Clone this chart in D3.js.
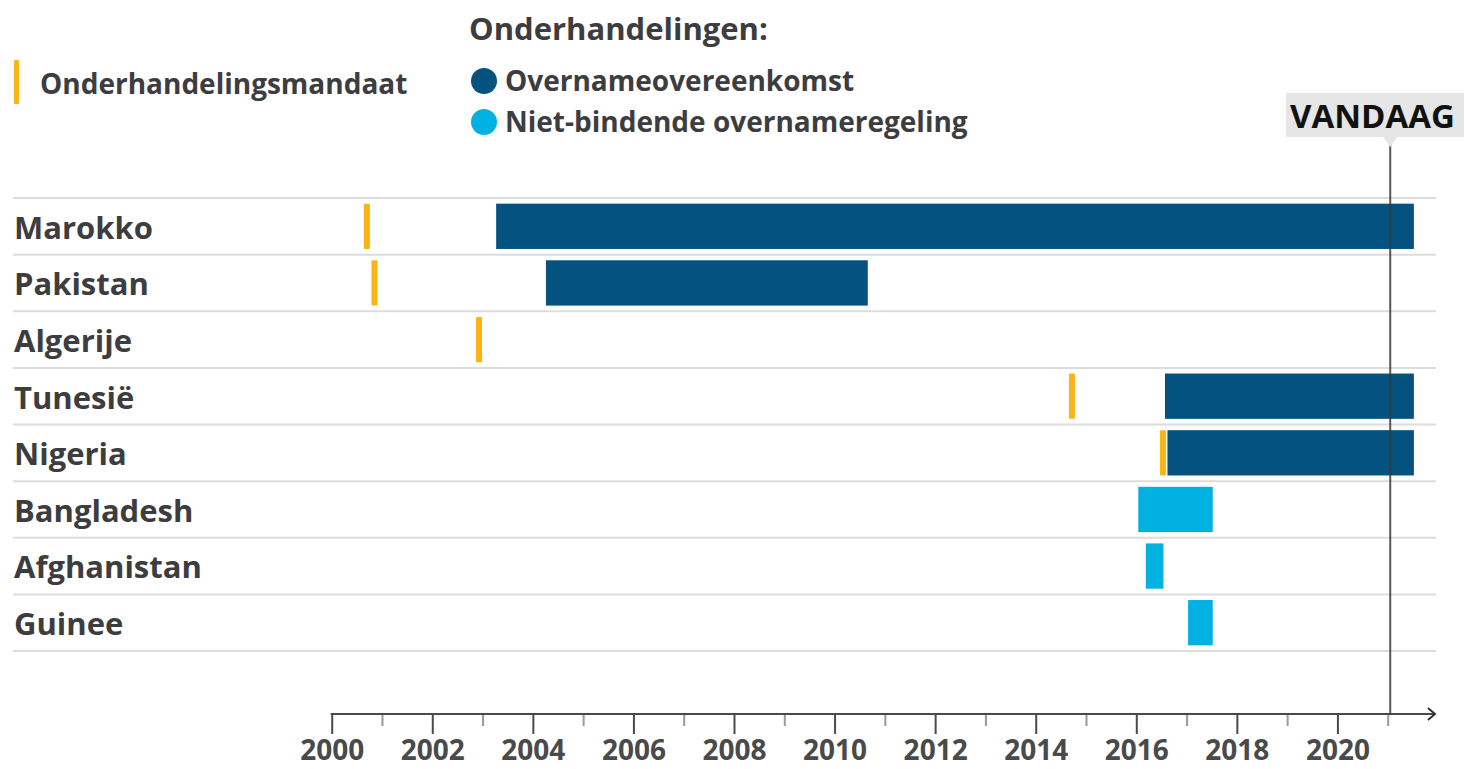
<!DOCTYPE html>
<html>
<head>
<meta charset="utf-8">
<script src="https://cdn.jsdelivr.net/npm/d3@7"></script>
<style>
  body { margin: 0; background: #fff; }
  svg { display: block; font-family: "Open Sans", "Noto Sans", sans-serif; font-weight: 700; }
</style>
</head>
<body>
<svg id="chart" width="1464" height="769"></svg>
<script>
// data
const countries = ['Marokko', 'Pakistan', 'Algerije', 'Tunesië', 'Nigeria', 'Bangladesh', 'Afghanistan', 'Guinee'];
const mandateYear = [2000.70, 2000.85, 2002.93, 2014.72, 2016.53, null, null, null];
const dealStart = [2003.27, 2004.26, null, 2016.57, 2016.62, 2016.04, 2016.19, 2017.03];
const dealEnd = [2021.52, 2010.66, null, 2021.52, 2021.52, 2017.52, 2016.54, 2017.52];
const dealType = ['bindend', 'bindend', null, 'bindend', 'bindend', 'niet', 'niet', 'niet'];
const majorTicks = [2000, 2002, 2004, 2006, 2008, 2010, 2012, 2014, 2016, 2018, 2020];
const minorTicks = [2001, 2003, 2005, 2007, 2009, 2011, 2013, 2015, 2017, 2019, 2021];
const today = 2021.05;

const legendTypes = ['bindend', 'niet'];
const legendLabels = ['Overnameovereenkomst', 'Niet-bindende overnameregeling'];

const colors = { bindend: '#03527f', niet: '#00b1e1', mandate: '#fbb316' };
const textColor = '#3d3d3f';

const svg = d3.select('#chart');

const x = d3.scaleLinear()
  .domain([2000, 2022])
  .range([331.7, 1438]);

const y = d3.scaleBand()
  .domain(countries)
  .range([198, 651])
  .paddingInner(0.2)
  .paddingOuter(0.1);

const step = y.step();

// row separators
svg.append('g')
  .selectAll('line')
  .data(d3.range(countries.length + 1))
  .join('line')
    .attr('x1', 13)
    .attr('x2', 1436)
    .attr('y1', i => 198 + i * step)
    .attr('y2', i => 198 + i * step)
    .attr('stroke', '#dcdcdc')
    .attr('stroke-width', 2);

// country labels
svg.append('g')
  .selectAll('text')
  .data(countries)
  .join('text')
    .attr('x', 14)
    .attr('y', d => y(d) + y.bandwidth() / 2)
    .attr('dy', '0.4em')
    .attr('fill', textColor)
    .style('font-size', '31px')
    .text(d => d);

// agreement bars
const deals = countries.map((c, i) => ({ c, s: dealStart[i], e: dealEnd[i], t: dealType[i] }))
  .filter(d => d.s !== null);

svg.append('g')
  .selectAll('rect')
  .data(deals)
  .join('rect')
    .attr('x', d => x(d.s))
    .attr('y', d => y(d.c))
    .attr('width', d => x(d.e) - x(d.s))
    .attr('height', y.bandwidth())
    .attr('fill', d => colors[d.t]);

// mandate markers
const mandates = countries.map((c, i) => ({ c, v: mandateYear[i] })).filter(d => d.v !== null);

svg.append('g')
  .selectAll('rect')
  .data(mandates)
  .join('rect')
    .attr('x', d => x(d.v) - 3)
    .attr('y', d => y(d.c))
    .attr('width', 6)
    .attr('height', y.bandwidth())
    .attr('rx', 1)
    .attr('fill', colors.mandate);

// axis
const axisY = 714;
const axisG = svg.append('g')
  .attr('transform', `translate(0,${axisY})`);

axisG.append('g')
  .call(d3.axisBottom(x).tickValues(minorTicks).tickSize(12).tickFormat(''))
  .call(g => g.select('.domain').remove())
  .call(g => g.selectAll('line').attr('stroke', '#9a9a9a').attr('stroke-width', 2));

axisG.append('g')
  .call(d3.axisBottom(x).tickValues(majorTicks).tickSize(20).tickPadding(8).tickFormat(d3.format('d')))
  .call(g => g.select('.domain').remove())
  .call(g => g.selectAll('line').attr('stroke', '#4a4a4a').attr('stroke-width', 2))
  .call(g => g.selectAll('text')
    .attr('dy', '0.66em')
    .attr('fill', '#4a4a4a')
    .style('font-family', '"Open Sans", sans-serif')
    .style('font-weight', 700)
    .style('font-size', '28px'));

axisG.append('line')
  .attr('x1', x(2000) - 1)
  .attr('x2', 1434)
  .attr('stroke', '#4a4a4a')
  .attr('stroke-width', 2);

axisG.append('path')
  .attr('d', 'M1428,-6 L1435,0 L1428,6')
  .attr('fill', 'none')
  .attr('stroke', '#333')
  .attr('stroke-width', 2);

// today marker
const tx = x(today);
svg.append('line')
  .attr('x1', tx).attr('x2', tx)
  .attr('y1', 140).attr('y2', axisY)
  .attr('stroke', '#3a3a3a')
  .attr('stroke-opacity', 0.85)
  .attr('stroke-width', 2);

svg.append('rect')
  .attr('x', 1286).attr('y', 93)
  .attr('width', 180).attr('height', 44)
  .attr('fill', '#e6e6e6');

svg.append('path')
  .attr('d', `M${tx - 7},137 L${tx + 7},137 L${tx},147 Z`)
  .attr('fill', '#e6e6e6');

svg.append('text')
  .attr('x', 1290).attr('y', 116)
  .attr('dy', '0.36em')
  .attr('fill', '#111')
  .style('font-size', '33px')
  .text('VANDAAG');

// legend
svg.append('rect')
  .attr('x', 14).attr('y', 60)
  .attr('width', 5).attr('height', 44)
  .attr('rx', 1)
  .attr('fill', colors.mandate);

svg.append('text')
  .attr('x', 40).attr('y', 84)
  .attr('dy', '0.36em')
  .attr('fill', textColor)
  .style('font-size', '28px')
  .text('Onderhandelingsmandaat');

svg.append('text')
  .attr('x', 469).attr('y', 29)
  .attr('dy', '0.36em')
  .attr('fill', textColor)
  .style('font-size', '31px')
  .text('Onderhandelingen:');

const leg = svg.append('g')
  .selectAll('g')
  .data(legendTypes)
  .join('g')
    .attr('transform', (d, i) => `translate(484,${81 + i * 41})`);

leg.append('circle')
  .attr('r', 13)
  .attr('fill', d => colors[d]);

leg.append('text')
  .attr('x', 21)
  .attr('dy', '0.36em')
  .attr('fill', textColor)
  .style('font-size', '28px')
  .text((d, i) => legendLabels[i]);
</script>
</body>
</html>
